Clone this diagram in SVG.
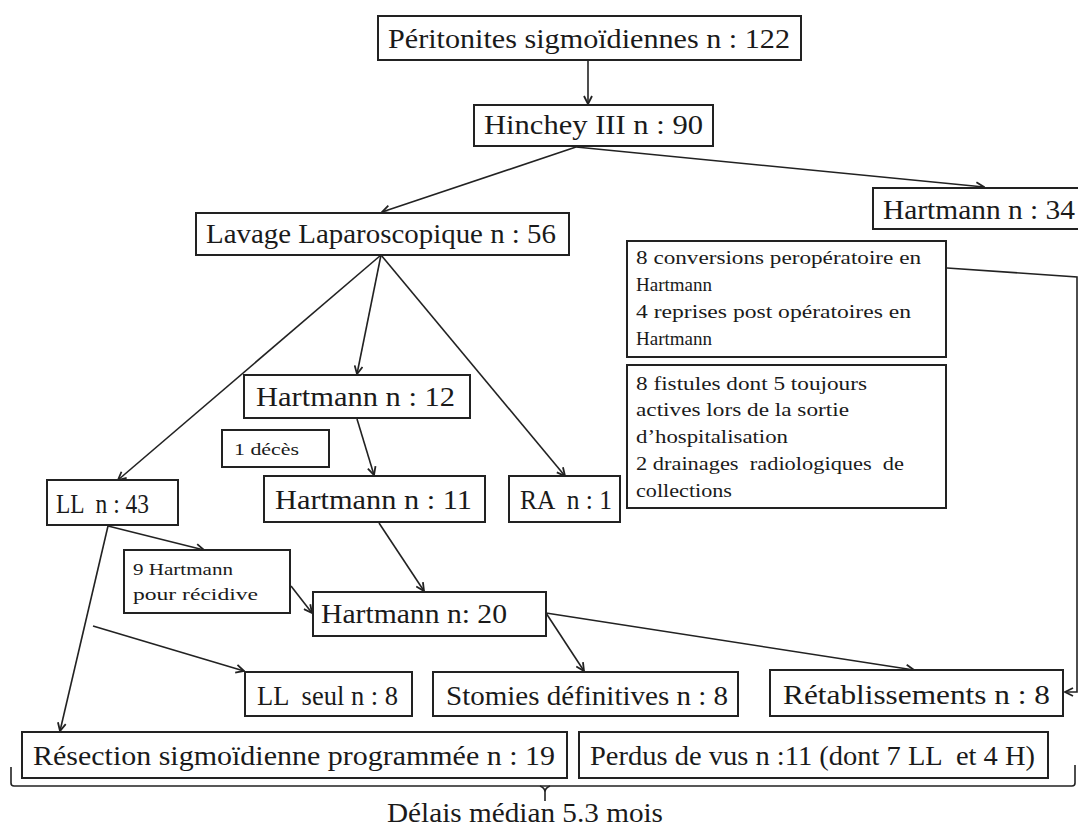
<svg xmlns="http://www.w3.org/2000/svg" width="1078" height="828" viewBox="0 0 1078 828">
<defs>
<style>
.b{fill:#fff;stroke:#222;stroke-width:2}
text{white-space:pre}
.t{font-family:"Liberation Serif","DejaVu Serif",serif;font-size:28px;fill:#1a1a1a}
.s{font-family:"Liberation Serif","DejaVu Serif",serif;font-size:19px;fill:#1a1a1a}
.xs{font-family:"Liberation Serif","DejaVu Serif",serif;font-size:17px;fill:#1a1a1a}
.c{fill:none;stroke:#222;stroke-width:1.6}
</style>
<marker id="a" viewBox="0 0 10 10" refX="9" refY="5" markerWidth="10" markerHeight="10" markerUnits="userSpaceOnUse" orient="auto">
<path d="M1,1 L9,5 L1,9" fill="none" stroke="#222" stroke-width="1.8"/>
</marker>
</defs>
<rect width="1078" height="828" fill="#fff"/>
<g id="connectors">
<line class="c" x1="588" y1="60" x2="588" y2="104" marker-end="url(#a)"/>
<line class="c" x1="576" y1="147" x2="382" y2="212" marker-end="url(#a)"/>
<line class="c" x1="576" y1="147" x2="984" y2="187" marker-end="url(#a)"/>
<line class="c" x1="381" y1="255" x2="118" y2="480" marker-end="url(#a)"/>
<line class="c" x1="381" y1="255" x2="357" y2="374" marker-end="url(#a)"/>
<line class="c" x1="381" y1="255" x2="565" y2="476" marker-end="url(#a)"/>
<line class="c" x1="357" y1="419" x2="374" y2="475" marker-end="url(#a)"/>
<line class="c" x1="108" y1="526" x2="204" y2="550" marker-end="url(#a)"/>
<line class="c" x1="379" y1="523" x2="424" y2="591" marker-end="url(#a)"/>
<line class="c" x1="291" y1="586" x2="312" y2="613" marker-end="url(#a)"/>
<line class="c" x1="108" y1="526" x2="60" y2="731" marker-end="url(#a)"/>
<line class="c" x1="93" y1="626" x2="244" y2="671" marker-end="url(#a)"/>
<line class="c" x1="546" y1="613" x2="584" y2="671" marker-end="url(#a)"/>
<line class="c" x1="546" y1="613" x2="914" y2="670" marker-end="url(#a)"/>
<polyline class="c" points="947,268 1077,277 1077,692 1065,692" marker-end="url(#a)"/>
<path class="c" d="M11,767 L11,783 Q11,786 14,786 L1072,786 Q1075,786 1075,783 L1075,765"/>
<path class="c" d="M540,786 Q545,788 545,792 L545,801 M550,786 Q545,788 545,792"/>
</g>
<g id="n1"><rect class="b" x="378" y="16" width="423" height="44"/><text class="t" x="388" y="48" textLength="402" lengthAdjust="spacingAndGlyphs">Péritonites sigmoïdiennes n : 122</text></g>
<g id="n2"><rect class="b" x="474" y="105" width="239" height="41"/><text class="t" x="484" y="134" textLength="219" lengthAdjust="spacingAndGlyphs">Hinchey III n : 90</text></g>
<g id="n3"><rect class="b" x="196" y="213" width="373" height="42"/><text class="t" x="206" y="243" textLength="350" lengthAdjust="spacingAndGlyphs">Lavage Laparoscopique n : 56</text></g>
<g id="n4"><rect class="b" x="873" y="188" width="210" height="41"/><text class="t" x="883" y="219" textLength="192" lengthAdjust="spacingAndGlyphs">Hartmann n : 34</text></g>
<g id="n5"><rect class="b" x="627" y="241" width="319" height="116"/>
<text class="s" x="636" y="264" textLength="285" lengthAdjust="spacingAndGlyphs">8 conversions peropératoire en</text>
<text class="s" x="636" y="291" textLength="76" lengthAdjust="spacingAndGlyphs">Hartmann</text>
<text class="s" x="636" y="318" textLength="275" lengthAdjust="spacingAndGlyphs">4 reprises post opératoires en</text>
<text class="s" x="636" y="345" textLength="76" lengthAdjust="spacingAndGlyphs">Hartmann</text></g>
<g id="n6"><rect class="b" x="627" y="365" width="319" height="143"/>
<text class="s" x="636" y="390" textLength="231" lengthAdjust="spacingAndGlyphs">8 fistules dont 5 toujours</text>
<text class="s" x="636" y="416" textLength="213" lengthAdjust="spacingAndGlyphs">actives lors de la sortie</text>
<text class="s" x="636" y="443" textLength="152" lengthAdjust="spacingAndGlyphs">d’hospitalisation</text>
<text class="s" x="636" y="470" textLength="268" lengthAdjust="spacingAndGlyphs">2 drainages  radiologiques  de</text>
<text class="s" x="636" y="497" textLength="96" lengthAdjust="spacingAndGlyphs">collections</text></g>
<g id="n7"><rect class="b" x="244" y="375" width="226" height="43"/><text class="t" x="256" y="406" textLength="199" lengthAdjust="spacingAndGlyphs">Hartmann n : 12</text></g>
<g id="n8"><rect class="b" x="222" y="430" width="107" height="37"/><text class="xs" x="234" y="455" textLength="65" lengthAdjust="spacingAndGlyphs">1 décès</text></g>
<g id="n9"><rect class="b" x="47" y="480" width="131" height="45"/><text class="t" x="56" y="513" textLength="93" lengthAdjust="spacingAndGlyphs">LL  n : 43</text></g>
<g id="n10"><rect class="b" x="264" y="476" width="221" height="46"/><text class="t" x="275" y="509" textLength="197" lengthAdjust="spacingAndGlyphs">Hartmann n : 11</text></g>
<g id="n11"><rect class="b" x="509" y="476" width="111" height="46"/><text class="t" x="520" y="509" textLength="92" lengthAdjust="spacingAndGlyphs">RA  n : 1</text></g>
<g id="n12"><rect class="b" x="124" y="550" width="166" height="63"/>
<text class="xs" x="133" y="575" textLength="100" lengthAdjust="spacingAndGlyphs">9 Hartmann</text>
<text class="xs" x="133" y="600" textLength="125" lengthAdjust="spacingAndGlyphs">pour récidive</text></g>
<g id="n13"><rect class="b" x="313" y="592" width="233" height="44"/><text class="t" x="321" y="623" textLength="186" lengthAdjust="spacingAndGlyphs">Hartmann n: 20</text></g>
<g id="n14"><rect class="b" x="245" y="672" width="167" height="44"/><text class="t" x="257" y="705" textLength="141" lengthAdjust="spacingAndGlyphs">LL  seul n : 8</text></g>
<g id="n15"><rect class="b" x="433" y="672" width="305" height="44"/><text class="t" x="446" y="705" textLength="282" lengthAdjust="spacingAndGlyphs">Stomies définitives n : 8</text></g>
<g id="n16"><rect class="b" x="770" y="670" width="293" height="46"/><text class="t" x="783" y="704" textLength="267" lengthAdjust="spacingAndGlyphs">Rétablissements n : 8</text></g>
<g id="n17"><rect class="b" x="22" y="732" width="545" height="46"/><text class="t" x="33" y="765" textLength="522" lengthAdjust="spacingAndGlyphs">Résection sigmoïdienne programmée n : 19</text></g>
<g id="n18"><rect class="b" x="579" y="732" width="469" height="46"/><text class="t" x="590" y="765" textLength="445" lengthAdjust="spacingAndGlyphs">Perdus de vus n :11 (dont 7 LL  et 4 H)</text></g>
<g id="label"><text class="t" x="387" y="822" textLength="276" lengthAdjust="spacingAndGlyphs">Délais médian 5.3 mois</text></g>
</svg>
